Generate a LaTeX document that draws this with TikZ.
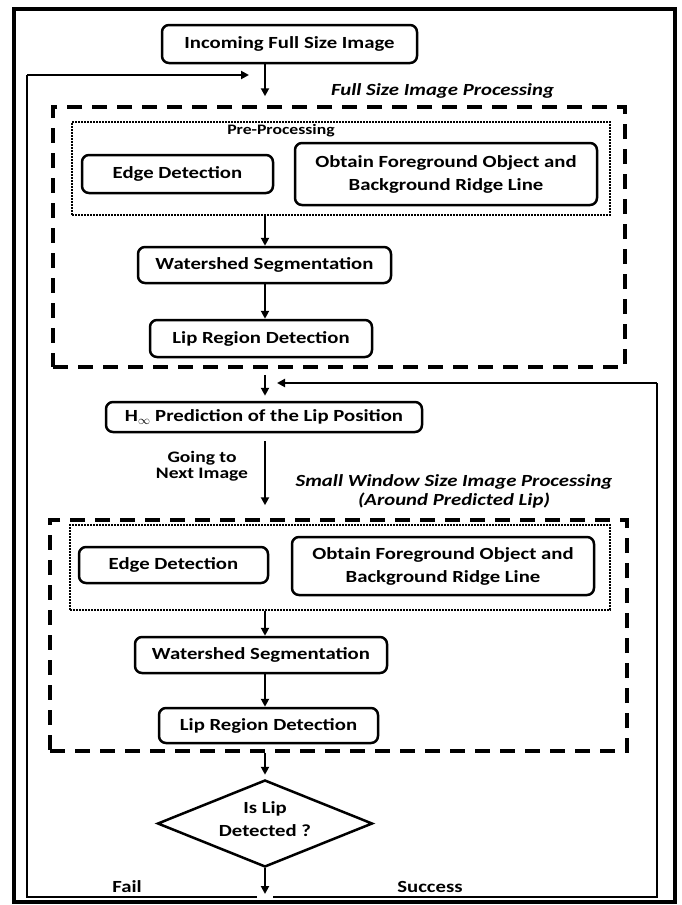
\documentclass[tikz,border=0pt]{standalone}
\usepackage{fontspec}
\setmainfont{Carlito}
\newfontfamily\diafont{Carlito}[FakeStretch=1.22]
\usetikzlibrary{shapes.geometric,arrows.meta}
\begin{document}
\begin{tikzpicture}[x=1pt,y=-1pt,
  proc/.style={draw,line width=2.5pt,rounded corners=7pt,inner sep=0pt,font=\diafont\bfseries\fontsize{17}{23}\selectfont,align=center},
  grp/.style={draw,line width=3.5pt,dash pattern=on 15pt off 10pt},
  pre/.style={draw,line width=2pt,dash pattern=on 1.6pt off 1.4pt},
  lbl/.style={font=\diafont\bfseries\itshape\fontsize{17}{19}\selectfont,align=center},
  small/.style={font=\diafont\bfseries\fontsize{17}{23}\selectfont,align=center},
  arr/.style={line width=2.5pt,-{Triangle[length=8pt,width=8pt]}},
  ln/.style={line width=2.5pt}]
\useasboundingbox (0,0) rectangle (682,905);
\draw[line width=4pt] (14,9) rectangle (675,902);
\coordinate (ax) at (265,0);
% Full size
\node[proc,minimum width=255pt,minimum height=38pt] (inc) at (289.5,44) {Incoming Full Size Image};
\node[lbl] (fslbl) at (442.5,91) {Full Size Image Processing};
\node[grp,minimum width=572pt,minimum height=260pt] (g1) at (339,237) {};
\node[pre,minimum width=538pt,minimum height=93pt] (p1) at (341,168.5) {};
\node[font=\diafont\bfseries\fontsize{14.5}{16}\selectfont] (p1lbl) at (281,131) {Pre-Processing};
\node[proc,minimum width=191pt,minimum height=38pt] (ed1) at (177.5,174) {Edge Detection};
\node[proc,minimum width=302pt,minimum height=62pt] (ob1) at (446,174) {Obtain Foreground Object and\\Background Ridge Line};
\node[proc,minimum width=253pt,minimum height=36pt] (ws1) at (264.5,265) {Watershed Segmentation};
\node[proc,minimum width=222pt,minimum height=37pt] (lr1) at (261,338.5) {Lip Region Detection};
\draw[arr,shorten >=9pt] (inc.south -| ax) -- (g1.north -| ax);
\draw[arr] (p1.south -| ax) -- (ws1.north -| ax);
\draw[arr] (ws1.south -| ax) -- (lr1.north -| ax);
% prediction
\node[proc,minimum width=316pt,minimum height=30pt] (hp) at (264,417) {H$_{\infty}$ Prediction of the Lip Position};
\draw[arr,shorten <=6pt,shorten >=5pt] (g1.south -| ax) -- (hp.north -| ax);
\node[font=\diafont\bfseries\fontsize{16}{16}\selectfont,align=center] (going) at (202,466) {Going to\\Next Image};
\node[lbl] (swlbl) at (454,491) {Small Window Size Image Processing\\(Around Predicted Lip)};
% small window
\node[grp,minimum width=577pt,minimum height=231pt] (g2) at (338.5,635.5) {};
\node[pre,minimum width=540pt,minimum height=85pt] (p2) at (340,567.5) {};
\node[proc,minimum width=189pt,minimum height=36pt] (ed2) at (173.5,565) {Edge Detection};
\node[proc,minimum width=302pt,minimum height=58pt] (ob2) at (443,566) {Obtain Foreground Object and\\Background Ridge Line};
\node[proc,minimum width=252pt,minimum height=36pt] (ws2) at (261,655) {Watershed Segmentation};
\node[proc,minimum width=219pt,minimum height=35pt] (lr2) at (268.5,725.5) {Lip Region Detection};
\draw[arr,shorten <=8pt,shorten >=13pt] (hp.south -| ax) -- (g2.north -| ax);
\draw[arr] (p2.south -| ax) -- (ws2.north -| ax);
\draw[arr] (ws2.south -| ax) -- (lr2.north -| ax);
% decision
\node[draw,diamond,line width=2.5pt,inner sep=0pt,minimum width=215pt,minimum height=87pt,aspect=2.47] (dec) at (265,823.5) {};
\node[small] (dect) at (265,819) {Is Lip\\Detected ?};
\draw[arr,shorten >=4pt] (g2.south -| ax) -- (dec.north);
\coordinate (e0) at (265,894);
\draw[arr] (dec.south) -- (e0);
\node[small] (fail) at (127,887) {Fail};
\node[small] (succ) at (430,887) {Success};
% feedback loops
\coordinate (fl0) at (257,897);
\coordinate (fl1) at (27,897);
\coordinate (fl2) at (27,75);
\coordinate (fl3) at (249,75);
\draw[ln] (fl0) -- (fl1) -- (fl2);
\draw[arr] (fl2) -- (fl3);
\coordinate (sl0) at (273,897);
\coordinate (sl1) at (657,897);
\coordinate (sl2) at (657,383);
\coordinate (sl3) at (277,383);
\draw[ln] (sl0) -- (sl1) -- (sl2);
\draw[arr] (sl2) -- (sl3);
\end{tikzpicture}
\end{document}
